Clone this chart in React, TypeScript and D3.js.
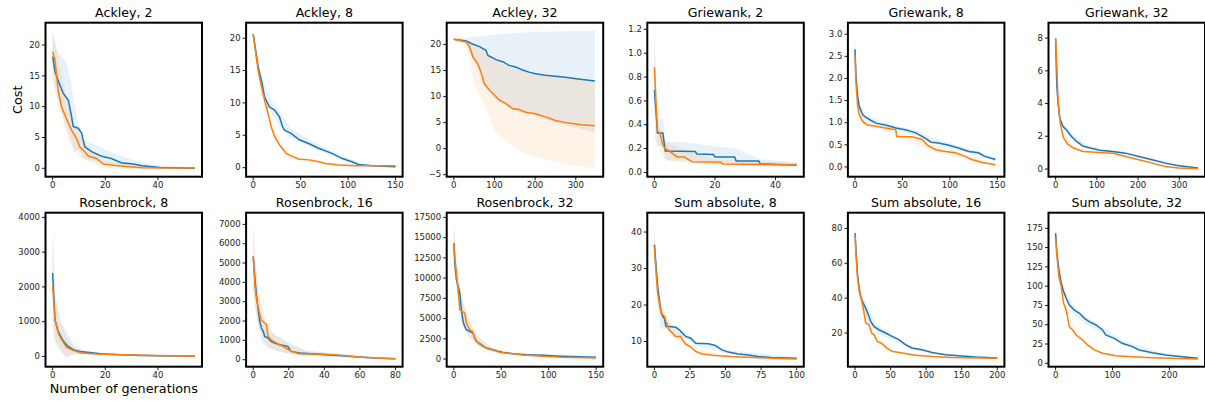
import React from "react";
import * as d3 from "d3";

type P = [number, number];
type B = [number, number, number];

// ---------- Ackley, 2 ----------
const ackley2Blue: P[] = [[0,18.1],[0.9,15.7],[2.5,13.8],[4,12.2],[6,11],[7.2,8.4],[7.8,6.8],[9.7,6.5],[11,5.7],[12.2,3.5],[14.8,2.7],[17.3,2.2],[19,1.9],[22.3,1.6],[26,0.9],[30.5,0.7],[34,0.4],[40.6,0.15],[54,0.02]];
const ackley2Orange: P[] = [[0,18.9],[0.9,17.6],[2.1,12.7],[3.4,10],[4.7,8.6],[6,7.3],[7.2,6.2],[9,4.9],[10.3,3.5],[12.2,2.7],[13.5,2],[16.6,1.6],[19.2,0.7],[23,0.5],[28,0.3],[34,0.1],[54,0.05]];
const ackley2BlueBand: B[] = [[0,15,22.2],[2,11,19],[5,7,17.3],[7,4.5,14],[8,2.5,11],[10,3,6.8],[12,1.5,4.6],[20,0.8,3],[30,0.2,1.4],[40,0,0.4],[54,0,0.1]];
const ackley2OrangeBand: B[] = [[0,14,22],[3,9,16],[6,4.5,10],[10,2,5.5],[15,0.8,2.7],[20,0.1,1.2],[30,-0.2,0.6],[54,-0.2,0.2]];

// ---------- Ackley, 8 ----------
const ackley8Blue: P[] = [[0,20.6],[5.2,15.5],[8.7,13.5],[12,10.9],[17,9.4],[22.6,8.9],[27.8,7.8],[31,6.3],[33,5.8],[40,5.3],[48.6,4.3],[59,3.7],[69,3.0],[83,2.2],[94,1.4],[104,0.9],[111,0.5],[125,0.3],[150,0.15]];
const ackley8Orange: P[] = [[0,20.6],[5.2,15],[8.7,12.5],[12,10.4],[15.6,8.4],[19,6.3],[22.6,4.8],[27.8,3.5],[34.7,2.2],[41.7,1.7],[48.6,1.3],[59,1.2],[69,0.9],[76,0.65],[90,0.4],[108,0.3],[150,0.3]];
const ackley8BlueBand: B[] = [[0,19.8,21.2],[10,11,13.3],[20,8.2,10.2],[30,6,8.2],[40,4.6,6],[60,3.2,4.3],[80,2,2.8],[100,0.8,1.5],[120,0.2,0.5],[150,0.05,0.3]];
const ackley8OrangeBand: B[] = [[0,19.8,21.3],[10,10.6,12.6],[20,5.2,6.8],[30,2.6,3.6],[40,1.4,2.0],[60,1,1.4],[80,0.4,0.7],[150,0.2,0.4]];

// ---------- Ackley, 32 ----------
const ackley32Blue: P[] = [[0,21],[31,20.7],[43,20.2],[63,19.6],[79,18.9],[84,17.9],[104,17.1],[120,16.7],[136,16],[152,15.7],[169,15.1],[185,14.7],[201,14.4],[225,14.1],[250,13.9],[274,13.7],[306,13.4],[347,13.0]];
const ackley32Orange: P[] = [[0,21],[31,20.5],[39,19.5],[47,17.6],[59,16.3],[67,14.7],[75,12.5],[88,11.2],[100,10.3],[112,9.3],[128,8.7],[144,7.7],[160,7.5],[177,7.0],[201,6.7],[225,6.1],[250,5.4],[282,4.9],[315,4.6],[347,4.4]];
const ackley32BlueBand: B[] = [[0,20.8,21.2],[30,20.2,21.3],[50,17,21.5],[75,12,21.7],[100,9.5,21.9],[150,7.3,22.2],[200,6.3,22.4],[250,5,22.5],[300,4,22.6],[347,3.2,22.6]];
const ackley32OrangeBand: B[] = [[0,20.8,21.2],[30,20.0,20.8],[50,12.5,20],[80,7.4,18.5],[104,3,17],[136,1,15.8],[177,-1,14.8],[234,-2.2,14],[290,-3.2,13.5],[347,-3.8,12.8]];

// ---------- Griewank, 2 ----------
const griewank2Blue: P[] = [[0,0.69],[0.5,0.52],[1,0.33],[2.8,0.33],[3.2,0.25],[3.6,0.18],[13.5,0.175],[14,0.155],[19.5,0.15],[20,0.13],[26.5,0.13],[27,0.095],[34.5,0.095],[35,0.07],[47,0.062]];
const griewank2Orange: P[] = [[0,0.885],[0.5,0.6],[1,0.35],[1.8,0.33],[2.8,0.23],[3.5,0.2],[4.3,0.19],[5.4,0.17],[7.5,0.13],[10,0.13],[10.5,0.12],[12.4,0.09],[22,0.085],[22.5,0.07],[47,0.062]];
const griewank2BlueBand: B[] = [[0,0.3,1.15],[1,0.22,0.45],[3,0.22,0.44],[3.6,0.1,0.26],[10,0.1,0.25],[14,0.1,0.24],[20,0.09,0.22],[27,0.06,0.2],[35,0.05,0.11],[47,0.045,0.085]];
const griewank2OrangeBand: B[] = [[0,0.6,1.2],[1,0.25,0.45],[3,0.12,0.3],[5,0.1,0.25],[10,0.08,0.18],[20,0.06,0.11],[47,0.05,0.08]];

// ---------- Griewank, 8 ----------
const griewank8Blue: P[] = [[0,2.66],[1,2.04],[2.8,1.59],[4.5,1.37],[8,1.18],[11.5,1.12],[17,1.05],[22,0.99],[32,0.95],[43,0.88],[53,0.84],[64,0.77],[74,0.65],[80,0.56],[88,0.54],[99,0.49],[109,0.43],[120,0.35],[130,0.32],[137,0.24],[148,0.17]];
const griewank8Orange: P[] = [[0,2.53],[1,1.9],[2.8,1.37],[4.5,1.18],[8,1.03],[13,0.95],[22,0.92],[32,0.88],[43,0.84],[44,0.69],[60,0.68],[71,0.62],[76,0.5],[85,0.39],[95,0.35],[106,0.32],[116,0.24],[123,0.17],[134,0.1],[148,0.05]];
const griewank8BlueBand: B[] = [[0,2.3,2.9],[2,1.5,1.95],[5,1.25,1.45],[10,1.08,1.22],[30,0.9,1.0],[60,0.74,0.86],[90,0.48,0.6],[120,0.3,0.42],[148,0.12,0.22]];
const griewank8OrangeBand: B[] = [[0,2.0,3.05],[2,1.3,1.8],[5,1.08,1.25],[10,0.95,1.08],[30,0.84,0.92],[50,0.62,0.75],[80,0.38,0.52],[110,0.22,0.34],[148,0.01,0.09]];

// ---------- Griewank, 32 ----------
const griewank32Blue: P[] = [[0,7.95],[3,5.0],[6,4.0],[10,3.1],[18,2.6],[26,2.4],[38,2.0],[50,1.7],[66,1.4],[82,1.3],[106,1.15],[138,1.07],[170,0.97],[202,0.77],[234,0.57],[266,0.36],[298,0.2],[345,0.06]];
const griewank32Orange: P[] = [[0,8.0],[3,6.2],[6,4.2],[11,2.8],[19,1.9],[30,1.5],[42,1.3],[66,1.07],[106,1.01],[138,0.97],[154,0.87],[170,0.77],[202,0.57],[234,0.36],[266,0.16],[298,0.06],[345,0.02]];
const griewank32BlueBand: B[] = [[0,7.6,8.3],[5,3.9,4.6],[15,2.5,2.95],[40,1.85,2.15],[80,1.22,1.38],[150,0.95,1.1],[250,0.38,0.55],[345,0.02,0.1]];
const griewank32OrangeBand: B[] = [[0,7.8,8.2],[5,4.3,4.9],[15,2.1,2.5],[40,1.25,1.4],[100,0.97,1.06],[200,0.53,0.62],[345,0,0.05]];

// ---------- Rosenbrock, 8 ----------
const rosen8Blue: P[] = [[0,2398],[0.9,1055],[2.1,720],[3.4,528],[4.7,384],[5.9,288],[7.8,192],[10.3,144],[14,115],[18,77],[25.5,48],[33,29],[54,5]];
const rosen8Orange: P[] = [[0,2043],[0.9,1055],[2.1,671],[3.4,480],[5.3,259],[7.8,173],[11,96],[16.7,67],[25.5,48],[54,5]];
const rosen8BlueBand: B[] = [[0,1000,3800],[1,400,1800],[3,150,1000],[5,-50,750],[8,60,320],[12,80,180],[20,50,100],[54,0,20]];
const rosen8OrangeBand: B[] = [[0,700,3500],[1,450,1700],[3,250,1000],[5,0,600],[8,60,280],[12,60,140],[20,40,90],[54,0,15]];

// ---------- Rosenbrock, 16 ----------
const rosen16Blue: P[] = [[0,5345],[1,4138],[1.9,3276],[2.8,2586],[3.7,1983],[4.6,1638],[5.6,1466],[6.5,1207],[8.3,1121],[10,948],[12,862],[14.8,776],[17.6,724],[19.4,690],[21.3,431],[26,345],[33,310],[40.7,259],[50,207],[59,138],[68.5,86],[80,52]];
const rosen16Orange: P[] = [[0,5345],[1,3793],[1.9,3103],[3.3,2500],[4.3,2069],[6.5,1897],[7.4,1810],[8.3,1207],[10,1034],[13,862],[16.7,690],[19.4,552],[21.3,431],[26,310],[33,293],[40.7,276],[50,224],[59,138],[68.5,86],[80,52]];
const rosen16BlueBand: B[] = [[0,3600,7100],[1,2800,5500],[3,1600,3500],[5,900,2400],[8,600,1700],[12,500,1300],[20,300,900],[30,200,480],[50,130,280],[80,30,80]];
const rosen16OrangeBand: B[] = [[0,3800,7000],[1,2700,5200],[3,1700,3400],[5,1200,2800],[8,700,1900],[12,500,1300],[20,280,800],[30,200,420],[50,150,300],[80,30,80]];

// ---------- Rosenbrock, 32 ----------
const rosen32Blue: P[] = [[0,14330],[1,11860],[2.8,9800],[4.5,8975],[6.3,8150],[8,6090],[9.8,4650],[11.5,4030],[13.3,3620],[16.7,3420],[20,3210],[23.7,2180],[29,1770],[34,1360],[41,1150],[46,950],[52,820],[62,660],[76,535],[93.5,450],[114,330],[150,205]];
const rosen32Orange: P[] = [[0,14330],[1,12680],[2.8,10420],[4.5,8560],[6.3,6090],[8.7,5890],[11.5,5680],[13.3,4450],[16.7,3620],[19.5,3420],[22,2590],[25.5,1980],[30.7,1560],[36,1320],[44.6,1070],[48,820],[62,660],[76,450],[93.5,330],[114,205],[150,125]];
const rosen32BlueBand: B[] = [[0,11500,17200],[3,8500,11500],[8,4500,8000],[15,2800,4800],[25,1700,2800],[40,900,1400],[60,550,800],[100,300,550],[150,100,300]];
const rosen32OrangeBand: B[] = [[0,11500,17000],[3,8800,12000],[8,4800,7500],[15,3000,5500],[25,1600,2700],[40,850,1350],[60,500,800],[100,200,450],[150,50,200]];

// ---------- Sum absolute, 8 ----------
const sum8Blue: P[] = [[0,36.5],[1.2,30.5],[2.3,25],[3.5,21.4],[4.6,18.2],[5.8,16.9],[7,16.4],[8.1,14.1],[10.4,14.1],[15,13.9],[17.4,13.2],[19.7,12.3],[22,11.4],[25.5,10.9],[29,9.5],[38,9.4],[42.8,8.9],[47.5,7.7],[52,7.1],[59,6.6],[66,6.3],[73,5.9],[82,5.6],[100,5.4]];
const sum8Orange: P[] = [[0,36],[1.2,28.7],[2.3,23.2],[3.5,20.5],[4.6,18.2],[5.8,17.3],[7,16.9],[8.1,15.5],[10.4,13.2],[12.7,12.3],[15,11.4],[18.5,11.4],[19.7,10.5],[22,9.3],[25.5,8.5],[29,7.3],[33.6,6.6],[42.8,6.2],[54,5.9],[66,5.7],[82,5.4],[100,5.2]];
const sum8BlueBand: B[] = [[0,32,42.5],[2,22,28],[4,13.5,21.5],[7,13.5,17.5],[10,13,15.3],[20,11.3,13.2],[30,8.8,10],[50,6.8,7.7],[100,5.1,5.7]];
const sum8OrangeBand: B[] = [[0,32,41],[2,21,26],[4,17,21],[7,15,18.5],[10,12,14.3],[20,9.5,11.5],[30,6.7,7.8],[50,5.7,6.2],[100,5,5.4]];

// ---------- Sum absolute, 16 ----------
const sum16Blue: P[] = [[0,77.3],[1.9,64],[3.3,54.4],[5.6,46.7],[7.9,41],[10.3,38.2],[15,34.3],[19.6,29.6],[22,26.7],[26.6,23.8],[33.6,21.9],[43,20],[52,18.1],[61.5,16.2],[71,13.3],[80,11.4],[94,10.4],[108,8.9],[127,7.6],[145,7.0],[169,6.2],[200,5.7]];
const sum16Orange: P[] = [[0,76.4],[1.9,62],[3.3,52.5],[5.6,44.8],[7.9,41],[10.3,37.2],[12.6,31.5],[15,25.8],[19.6,24.8],[23.3,20],[26.6,19],[31,15.3],[38,13.9],[45,11.4],[52,9.5],[66,8.5],[85,7.2],[108,6.6],[136,6.0],[200,5.5]];
const sum16BlueBand: B[] = [[0,73,83],[5,42,50],[10,34,42],[20,26,33],[30,20,25],[50,16.5,20],[80,10.5,12.5],[120,7.5,8.5],[200,5.3,6.0]];
const sum16OrangeBand: B[] = [[0,72,80],[5,42,48],[10,35,40],[20,22.5,26.5],[30,15,19],[50,9,10.5],[80,7,7.8],[120,6,6.6],[200,5.2,5.8]];

// ---------- Sum absolute, 32 ----------
const sum32Blue: P[] = [[0,168.5],[2.3,142.6],[5.8,121],[9.9,103.7],[14,92.9],[18.6,84.3],[24,75.6],[33,69],[42,64.8],[50.6,58.3],[59,54],[71,49.7],[82.6,43.2],[88,36.7],[103,32.4],[117,25.9],[135,21.6],[146.5,17.3],[170,13.8],[193,10.8],[222,8.6],[250,6.5]];
const sum32Orange: P[] = [[0,162],[2.3,138.3],[5.8,112.4],[9.9,99.4],[14,77.8],[18.6,69.1],[24,47.5],[30,43.2],[36,36.7],[47.7,30.2],[56,23.8],[68,17.3],[82.6,13],[106,9.9],[135,8.6],[170,7.3],[250,5.6]];
const sum32BlueBand: B[] = [[0,158,180],[5,115,132],[10,97,110],[20,78,88],[35,62,73],[50,52,62],[80,40,48],[120,23,29],[180,11,15],[250,5.5,8]];
const sum32OrangeBand: B[] = [[0,155,175],[5,108,124],[10,94,104],[20,64,72],[35,35,40],[50,26,30],[80,12,14.5],[120,8,9.5],[250,5,6.5]];

// ---------- panel definitions ----------
const titles = ["Ackley, 2","Ackley, 8","Ackley, 32","Griewank, 2","Griewank, 8","Griewank, 32","Rosenbrock, 8","Rosenbrock, 16","Rosenbrock, 32","Sum absolute, 8","Sum absolute, 16","Sum absolute, 32"];
const xMax = [54,150,350,47,150,345,54,80,150,100,200,250];
const yLimits: [number, number][] = [[-1.36,23.62],[-1.4,22.4],[-5.4,24.2],[-0.036,1.256],[-0.22,3.26],[-0.47,8.94],[-296,4135],[-362,7605],[-950,18080],[3.1,45.3],[0.7,89],[-4.4,195.2]];
const xTickValues = [[0,20,40],[0,50,100,150],[0,100,200,300],[0,20,40],[0,50,100,150],[0,100,200,300],[0,20,40],[0,20,40,60,80],[0,50,100,150],[0,25,50,75,100],[0,50,100,150,200],[0,100,200]];
const yTickValues = [[0,5,10,15,20],[0,5,10,15,20],[-5,0,5,10,15,20],[0,0.2,0.4,0.6,0.8,1.0,1.2],[0,0.5,1,1.5,2,2.5,3],[0,2,4,6,8],[0,1000,2000,3000,4000],[0,1000,2000,3000,4000,5000,6000,7000],[0,2500,5000,7500,10000,12500,15000,17500],[10,20,30,40],[20,40,60,80],[0,25,50,75,100,125,150,175]];
const yDecimals = [0,0,0,1,1,0,0,0,0,0,0,0];
const blueSeries = [ackley2Blue,ackley8Blue,ackley32Blue,griewank2Blue,griewank8Blue,griewank32Blue,rosen8Blue,rosen16Blue,rosen32Blue,sum8Blue,sum16Blue,sum32Blue];
const orangeSeries = [ackley2Orange,ackley8Orange,ackley32Orange,griewank2Orange,griewank8Orange,griewank32Orange,rosen8Orange,rosen16Orange,rosen32Orange,sum8Orange,sum16Orange,sum32Orange];
const blueBands = [ackley2BlueBand,ackley8BlueBand,ackley32BlueBand,griewank2BlueBand,griewank8BlueBand,griewank32BlueBand,rosen8BlueBand,rosen16BlueBand,rosen32BlueBand,sum8BlueBand,sum16BlueBand,sum32BlueBand];
const orangeBands = [ackley2OrangeBand,ackley8OrangeBand,ackley32OrangeBand,griewank2OrangeBand,griewank8OrangeBand,griewank32OrangeBand,rosen8OrangeBand,rosen16OrangeBand,rosen32OrangeBand,sum8OrangeBand,sum16OrangeBand,sum32OrangeBand];

const BLUE = "#1f77b4";
const ORANGE = "#ff7f0e";
const W = 1205, H = 403;
const LEFT0 = 45.5, COLSTEP = 200.6, PW = 156.5;
const TOP0 = 22.7, ROWSTEP = 190, PH = 154;
const FONT = "DejaVu Sans";

function fmt(v: number, dec: number) {
  const s = v.toFixed(dec);
  return v < 0 ? "\u2212" + s.slice(1) : s;
}

function Panel({ i }: { i: number }) {
  const col = i % 6, row = Math.floor(i / 6);
  const left = LEFT0 + col * COLSTEP;
  const top = TOP0 + row * ROWSTEP;
  const N = xMax[i];
  const x = d3.scaleLinear().domain([-0.05 * N, 1.05 * N]).range([left, left + PW]);
  const y = d3.scaleLinear().domain(yLimits[i]).range([top + PH, top]);
  const line = d3.line<P>().x(d => x(d[0])).y(d => y(d[1]));
  const area = d3.area<B>().x(d => x(d[0])).y0(d => y(d[1])).y1(d => y(d[2]));
  const bottom = top + PH;
  const clipId = `clip${i}`;
  return (
    <g>
      <defs>
        <clipPath id={clipId}><rect x={left} y={top} width={PW} height={PH} /></clipPath>
      </defs>
      <g clipPath={`url(#${clipId})`}>
        <path d={area(blueBands[i]) || ""} fill={BLUE} fillOpacity={0.1} />
        <path d={area(orangeBands[i]) || ""} fill={ORANGE} fillOpacity={0.1} />
        <path d={line(blueSeries[i]) || ""} fill="none" stroke={BLUE} strokeWidth={1.5} />
        <path d={line(orangeSeries[i]) || ""} fill="none" stroke={ORANGE} strokeWidth={1.5} />
      </g>
      <rect x={left} y={top} width={PW} height={PH} fill="none" stroke="#000" strokeWidth={2} />
      {yTickValues[i].map(v => (
        <g key={"y" + v}>
          <line x1={left - 3.5} x2={left} y1={y(v)} y2={y(v)} stroke="#000" strokeWidth={0.9} />
          <text x={left - 5.5} y={y(v)} dy="0.32em" textAnchor="end" fontSize={8.5} fill="#222">{fmt(v, yDecimals[i])}</text>
        </g>
      ))}
      {xTickValues[i].map(v => (
        <g key={"x" + v}>
          <line x1={x(v)} x2={x(v)} y1={bottom} y2={bottom + 3.5} stroke="#000" strokeWidth={0.9} />
          <text x={x(v)} y={bottom + 5.5} dy="0.71em" textAnchor="middle" fontSize={8.5} fill="#222">{fmt(v, 0)}</text>
        </g>
      ))}
      <text x={left + PW / 2} y={top - 6} textAnchor="middle" fontSize={12.6} fill="#000">{titles[i]}</text>
    </g>
  );
}

export default function App() {
  return (
    <svg width={W} height={H} style={{ position: "absolute", left: 0, top: 0, background: "#fff" }} fontFamily={FONT}>
      <rect x={0} y={0} width={W} height={H} fill="#fff" />
      {titles.map((_, i) => <Panel key={i} i={i} />)}
      <text transform={`translate(21.7, ${TOP0 + PH / 2}) rotate(-90)`} textAnchor="middle" fontSize={12.8} fill="#000">Cost</text>
      <text x={LEFT0 + PW / 2} y={392.5} textAnchor="middle" fontSize={12.8} fill="#000">Number of generations</text>
    </svg>
  );
}
